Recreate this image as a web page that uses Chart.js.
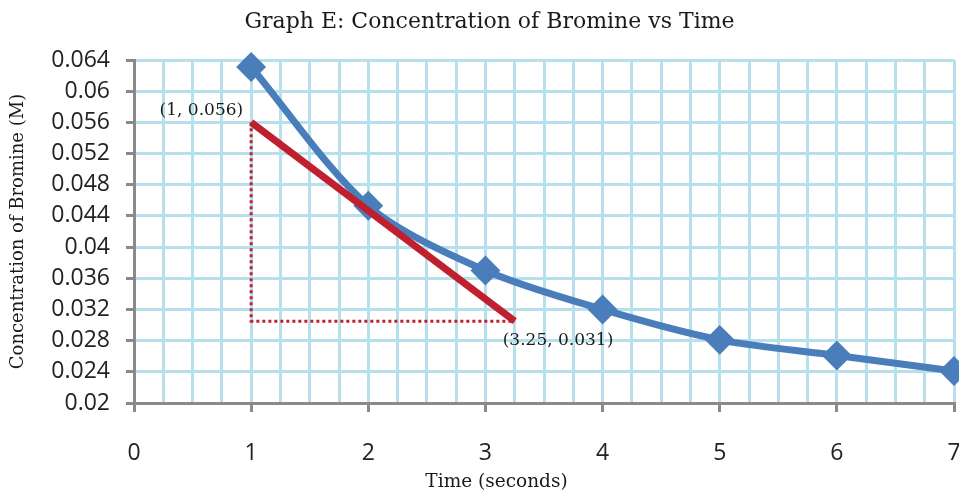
<!DOCTYPE html>
<html>
<head>
<meta charset="utf-8">
<script src="https://cdn.jsdelivr.net/npm/chart.js@4"></script>
<style>
  html, body { margin: 0; padding: 0; background: #fff; }
  #wrap { width: 959px; height: 491px; }
</style>
</head>
<body>
<div id="wrap"><canvas id="chart"></canvas></div>
<script>
// measured concentration of bromine over time
const times = [1, 2, 3, 4, 5, 6, 7];
const bromine = [0.0631, 0.0453, 0.0370, 0.0320, 0.0281, 0.0261, 0.0241];

// tangent drawn at t = 1 and its rise/run guide
const tangentX = [1, 3.25];
const tangentY = [0.056, 0.0305];
const guideX = [1, 1, 3.25];
const guideY = [0.056, 0.0305, 0.0305];
const tangentLabels = ['(1, 0.056)', '(3.25, 0.031)'];

const chartTitle = 'Graph E: Concentration of Bromine vs Time';
const xTitle = 'Time (seconds)';
const yTitle = 'Concentration of Bromine (M)';

// axes
const xMin = 0, xMax = 7, xStep = 0.25;
const yMin = 0.02, yMax = 0.064, yStep = 0.004;

const BLUE = '#4a7ebb';
const RED = '#c0202e';
const GRID = '#b5e0ec';
const AXIS = '#8a8a8a';
const SERIF = '"DejaVu Serif", serif';
const SANS = '"Open Sans", sans-serif';

const toPoints = (xs, ys) => xs.map((v, i) => ({ x: v, y: ys[i] }));

// stretch the plot to the right edge like the original sheet
const plotEdgePlugin = {
    id: 'plotEdge',
    afterLayout(chart) {
        const x = chart.scales.x;
        const target = chart.width - 5;
        const d = target - x.right;
        x.right = target;
        x.width += d;
        x.configure();
        chart.chartArea.right = target;
        chart.chartArea.width += d;
    }
};

// title, x axis title and the tangent end point coordinates
const textPlugin = {
    id: 'chartText',
    afterDatasetsDraw(chart) {
        const { ctx, scales: { x, y } } = chart;
        ctx.save();
        ctx.fillStyle = '#1a1a1a';
        ctx.textBaseline = 'middle';
        ctx.textAlign = 'center';
        ctx.font = '22px ' + SERIF;
        ctx.fillText(chartTitle, chart.width / 2 + 10, 22);
        ctx.font = '18.5px ' + SERIF;
        ctx.fillText(xTitle, chart.width / 2 + 17, chart.height - 9);

        ctx.font = '17px ' + SERIF;
        ctx.textAlign = 'right';
        ctx.fillText(tangentLabels[0], x.getPixelForValue(tangentX[0]) - 8, y.getPixelForValue(tangentY[0]) - 12);
        ctx.textAlign = 'left';
        ctx.fillText(tangentLabels[1], x.getPixelForValue(tangentX[1]) - 12, y.getPixelForValue(tangentY[1]) + 19);
        ctx.restore();
    }
};

new Chart(document.getElementById('chart'), {
    type: 'line',
    data: {
        datasets: [
            {
                label: 'Tangent',
                data: toPoints(tangentX, tangentY),
                borderColor: RED,
                borderWidth: 7,
                pointRadius: 0,
                order: 1
            },
            {
                label: 'Guide',
                data: toPoints(guideX, guideY),
                borderColor: RED,
                borderWidth: 3,
                borderDash: [3, 3],
                pointRadius: 0,
                order: 3
            },
            {
                label: 'Bromine',
                data: toPoints(times, bromine),
                borderColor: BLUE,
                backgroundColor: BLUE,
                borderWidth: 7,
                tension: 0.3,
                pointStyle: 'rectRot',
                pointRadius: 10,
                pointHoverRadius: 10,
                clip: false,
                order: 2
            }
        ]
    },
    options: {
        responsive: true,
        maintainAspectRatio: false,
        animation: false,
        layout: { padding: { top: 60, left: 0, right: 0, bottom: 0 } },
        plugins: {
            legend: { display: false },
            tooltip: { enabled: false },
            title: { display: false }
        },
        scales: {
            x: {
                type: 'linear',
                min: xMin,
                max: xMax,
                border: { color: AXIS, width: 3 },
                grid: {
                    color: GRID,
                    lineWidth: 3,
                    tickLength: 9,
                    tickWidth: 3,
                    tickColor: ctx => Number.isInteger(ctx.tick.value) ? AXIS : 'rgba(0,0,0,0)'
                },
                ticks: {
                    stepSize: xStep,
                    autoSkip: false,
                    maxRotation: 0,
                    padding: 28,
                    color: '#222',
                    font: { family: SANS, size: 23 },
                    callback: v => Number.isInteger(v) ? String(v) : ''
                },
                title: { display: false, text: xTitle },
                afterFit: scale => { scale.height = 88; }
            },
            y: {
                min: yMin,
                max: yMax,
                border: { color: AXIS, width: 3 },
                grid: {
                    color: GRID,
                    lineWidth: 3,
                    tickLength: 8,
                    tickWidth: 3,
                    tickColor: AXIS
                },
                ticks: {
                    stepSize: yStep,
                    padding: 16,
                    color: '#222',
                    font: { family: SANS, size: 23 },
                    callback: v => String(+v.toFixed(3))
                },
                title: {
                    display: true,
                    text: yTitle,
                    color: '#1a1a1a',
                    font: { family: SERIF, size: 18 },
                    padding: { top: 8, bottom: 0 }
                },
                afterFit: scale => { scale.width = 134; }
            }
        }
    },
    plugins: [plotEdgePlugin, textPlugin]
});
</script>
</body>
</html>
